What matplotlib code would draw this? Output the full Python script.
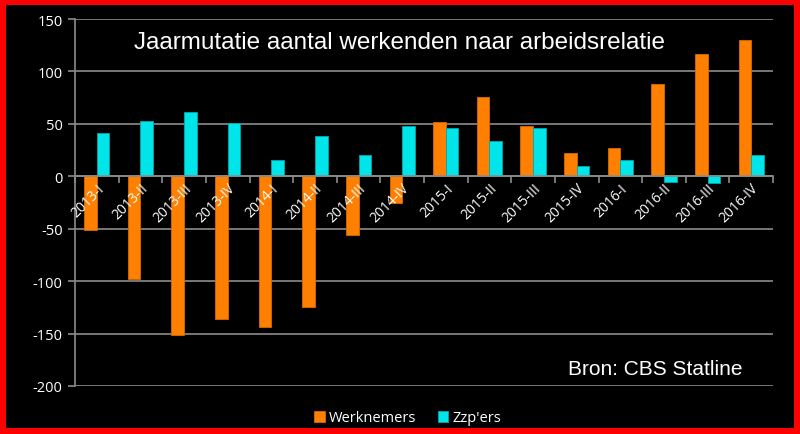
import matplotlib
matplotlib.use("Agg")
import matplotlib.pyplot as plt
from matplotlib.patches import Rectangle
import numpy as np

plt.rcParams["axes.unicode_minus"] = False

# ---------- data ----------
kwartalen = ["2013-I", "2013-II", "2013-III", "2013-IV",
             "2014-I", "2014-II", "2014-III", "2014-IV",
             "2015-I", "2015-II", "2015-III", "2015-IV",
             "2016-I", "2016-II", "2016-III", "2016-IV"]
werknemers = [-51, -98, -151, -136, -144, -125, -56, -25,
              52, 76, 48, 22, 27, 88, 117, 130]
zzpers = [41, 53, 61, 51, 16, 38, 20, 48,
          46, 34, 46, 10, 16, -5, -6, 20]
y_ticks = [-200, -150, -100, -50, 0, 50, 100, 150]

# ---------- palette ----------
BORDER = "#ff0000"
BG = "#000000"
ORANGE = "#ff7f00"
CYAN = "#00e5ea"
GRID = "#8c8c8c"
TXT = "#ffffff"

fig = plt.figure(figsize=(8, 4.35), dpi=100)
fig.patch.set_facecolor(BORDER)
W, H = 800, 435
fig.patches.append(Rectangle((6 / W, 6 / H), 788 / W, 423 / H,
                             transform=fig.transFigure, facecolor=BG,
                             edgecolor="none", zorder=-10))

ax = fig.add_axes([75 / W, 1 - 387 / H, 698 / W, 367 / H])
ax.set_facecolor("none")

x = np.arange(len(kwartalen))
bw = 0.29
ax.bar(x - bw / 2, werknemers, bw, color=ORANGE, edgecolor="#d86a00",
       linewidth=0.6, zorder=3, label="Werknemers")
ax.bar(x + bw / 2, zzpers, bw, color=CYAN, edgecolor="#00a8ad",
       linewidth=0.6, zorder=3, label="Zzp'ers")

ax.set_xlim(-0.5, len(kwartalen) - 0.5)
ax.set_ylim(-200, 150)
ax.set_yticks(y_ticks)
ax.grid(axis="y", color=GRID, linewidth=1.2)
ax.yaxis.set_zorder(0.5)

for s in ("top", "right"):
    ax.spines[s].set_visible(False)
ax.spines["left"].set_color(GRID)
ax.spines["left"].set_linewidth(1.2)
ax.spines["bottom"].set_position(("data", 0))
ax.spines["bottom"].set_color(GRID)
ax.spines["bottom"].set_linewidth(1.2)
ax.spines["bottom"].set_zorder(4)

ax.set_xticks(x)
ax.set_xticklabels(kwartalen, rotation=45, ha="right", va="top",
                   rotation_mode="anchor", color=TXT, fontsize=10,
                   family="Open Sans")
ax.set_xticks(np.arange(len(kwartalen) + 1) - 0.5, minor=True)
ax.tick_params(axis="x", which="major", length=0, pad=3)
ax.tick_params(axis="x", which="minor", length=5, width=1.2, color=GRID,
               direction="out")
ax.tick_params(axis="y", length=5, width=1.2, color=GRID, labelcolor=TXT,
               labelsize=10.5, pad=4)
ax.xaxis.set_zorder(5)
for t in ax.get_yticklabels():
    t.set_family("Open Sans")

fig.text(400 / W, 1 - 43 / H, "Jaarmutatie aantal werkenden naar arbeidsrelatie",
         ha="center", va="center", color=TXT, fontsize=17.5,
         family="Liberation Sans")
fig.text(655 / W, 1 - 370 / H, "Bron: CBS Statline", ha="center",
         va="center", color=TXT, fontsize=15, family="Liberation Sans")

leg = fig.legend(loc="center", bbox_to_anchor=(408 / W, 1 - 419 / H),
                 ncol=2, frameon=False, handlelength=0.7, handleheight=0.7,
                 handletextpad=0.3, columnspacing=1.5,
                 prop={"family": "Open Sans", "size": 10.5})
for t in leg.get_texts():
    t.set_color(TXT)

fig.savefig("out.png", dpi=100, facecolor=fig.get_facecolor())
